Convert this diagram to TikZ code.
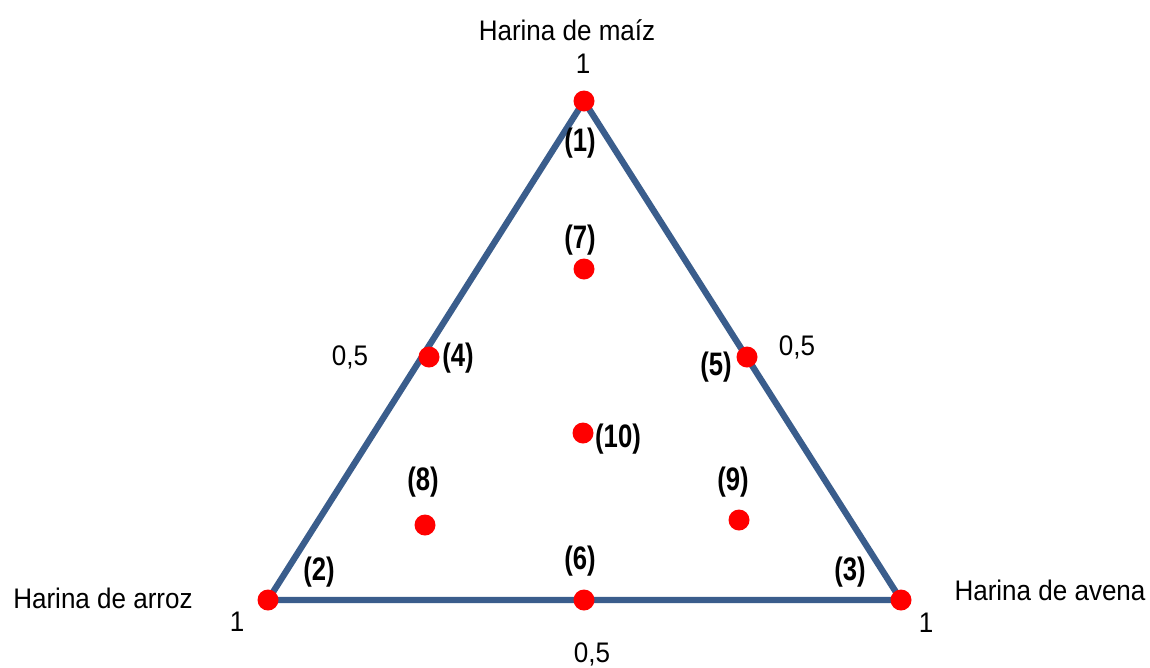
\documentclass[tikz,border=0pt]{standalone}
\usepackage{fontspec}
\setmainfont{Liberation Sans}[FakeStretch=0.92]
\newfontfamily\lblfont{Liberation Sans}[FakeStretch=0.79,UprightFont=*-Bold]
\usetikzlibrary{backgrounds}
\definecolor{triblue}{HTML}{3A5D8C}
\tikzset{
  dot/.style={circle,fill=red,inner sep=0pt,minimum size=0.42cm},
  txt/.style={anchor=base,inner sep=0pt,font=\fontsize{16.1}{19}\selectfont},
  lbl/.style={anchor=base,inner sep=0pt,font=\lblfont\fontsize{18.5}{21}\selectfont},
  edge/.style={draw=triblue,line width=3.6pt,line join=round}
}
\begin{document}
\begin{tikzpicture}[x=0.02cm,y=-0.02cm]
\useasboundingbox (0,0) rectangle (1150,667);
% dots
\node[dot] (p1) at (584,101) {};
\node[dot] (p2) at (268,600) {};
\node[dot] (p3) at (901,600) {};
\node[dot] (p4) at (429,357) {};
\node[dot] (p5) at (747,357) {};
\node[dot] (p6) at (584,600) {};
\node[dot] (p7) at (584,269) {};
\node[dot] (p8) at (425,525) {};
\node[dot] (p9) at (739,520) {};
\node[dot] (p10) at (583,433) {};
\begin{scope}[on background layer]
\draw[edge] (p1.center) -- (p2.center) -- (p3.center) -- cycle;
\end{scope}
% point labels
\node[lbl] (l1) at (580,151) {(1)};
\node[lbl] (l2) at (319,580) {(2)};
\node[lbl] (l3) at (850,580) {(3)};
\node[lbl] (l4) at (458,366) {(4)};
\node[lbl] (l5) at (716,375) {(5)};
\node[lbl] (l6) at (580,569) {(6)};
\node[lbl] (l7) at (580,248) {(7)};
\node[lbl] (l8) at (423,490) {(8)};
\node[lbl] (l9) at (733,490) {(9)};
\node[lbl] (l10) at (618,447) {(10)};
% axis texts
\node[txt] (tmaiz) at (567,40) {Harina de maíz};
\node[txt] (t1top) at (583,73) {1};
\node[txt] (tarroz) at (103,608) {Harina de arroz};
\node[txt] (t1left) at (237,631) {1};
\node[txt] (tavena) at (1050,600) {Harina de avena};
\node[txt] (t1right) at (926,632) {1};
\node[txt] (thl) at (350,365) {0,5};
\node[txt] (thr) at (797,355) {0,5};
\node[txt] (thb) at (592,662) {0,5};
\end{tikzpicture}
\end{document}
